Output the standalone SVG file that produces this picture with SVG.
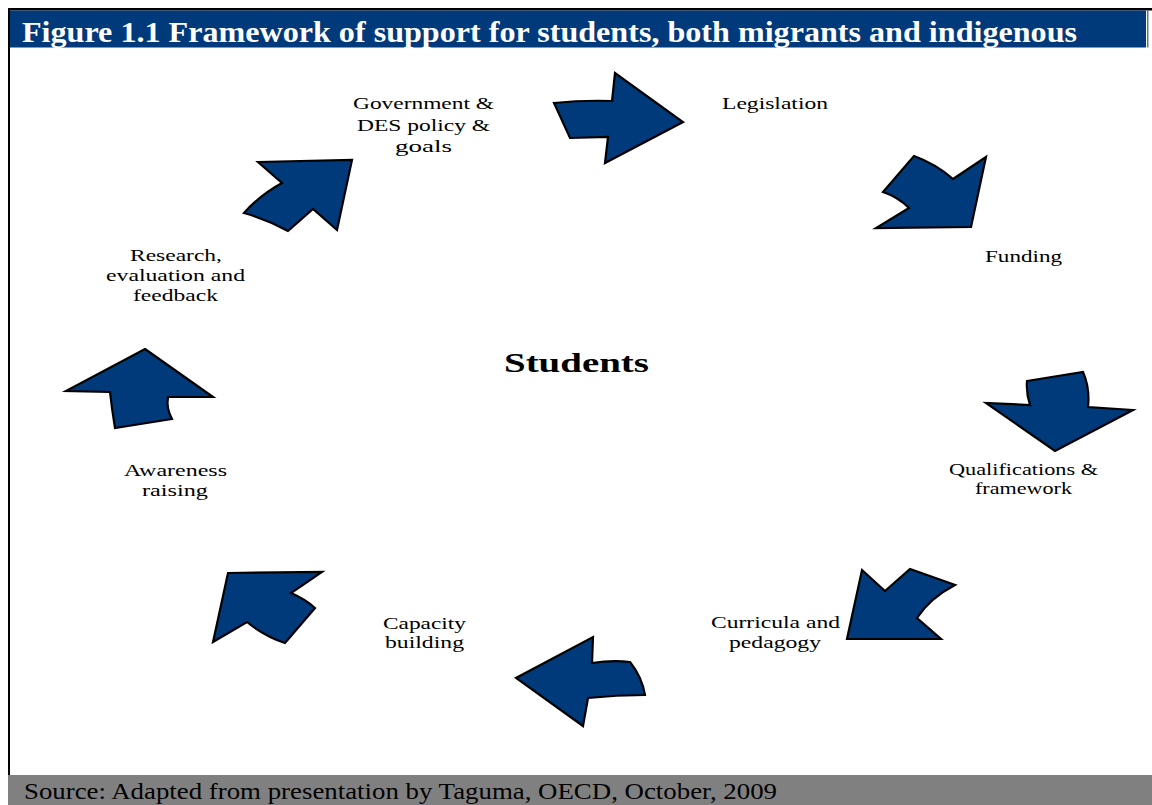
<svg xmlns="http://www.w3.org/2000/svg" width="1152" height="805" viewBox="0 0 1152 805">
<style>
.arrow{fill:#003a7a;stroke:#000;stroke-width:2.2;stroke-linejoin:miter}
.lbl{font-family:"Liberation Serif","Times New Roman",serif;font-size:17px;fill:#000;text-anchor:middle}
</style>
<rect x="0" y="0" width="1152" height="805" fill="#fff"/>
<g id="frame">
<rect x="8" y="8" width="1144" height="2.5" fill="#000"/>
<rect x="8" y="8" width="2" height="768" fill="#000"/>
<rect x="10" y="10.5" width="1136" height="37" fill="#003a7a"/>
<rect x="1147" y="10.5" width="1.5" height="37" fill="#5a76a0"/>
<text x="22" y="42" font-family="Liberation Serif,'Times New Roman',serif" font-size="30" font-weight="bold" fill="#fff" textLength="1055" lengthAdjust="spacingAndGlyphs">Figure 1.1 Framework of support for students, both migrants and indigenous</text>
<rect x="8" y="775" width="1144" height="30" fill="#808080"/>
<text x="24" y="799" font-family="Liberation Serif,'Times New Roman',serif" font-size="23" fill="#000" textLength="753" lengthAdjust="spacingAndGlyphs">Source: Adapted from presentation by Taguma, OECD, October, 2009</text>
</g>
<g id="connectors">
<path id="arrow-legislation" class="arrow" d="M554,103 Q583,100 612,101 L615,73 L683,122 L605,163 L608,137 L570,138 Z"/>
<path id="arrow-funding" class="arrow" d="M914,156 Q936,164 953,179 L986,157 L971,227 L876,228 L909,208 Q898,197 883,192 Z"/>
<path id="arrow-qualifications" class="arrow" d="M1027,381 L1083,372 Q1090,388 1088,407 L1133,410 L1055,451 L986,403 L1030,405 Q1026,393 1027,381 Z"/>
<path id="arrow-curricula" class="arrow" d="M862,570 L885,591 L910,569 L955,585 Q930,598 917,618 L941,639 L847,639 Z"/>
<path id="arrow-capacity" class="arrow" d="M593,637 L592,663 Q612,660 630,662 Q642,677 645,695 Q616,695 588,698 L583,726 L516,678 Z"/>
<path id="arrow-awareness" class="arrow" d="M228,573 L322,572 L291,593 Q305,599 315,608 L285,643 Q264,636 247,622 L213,642 Z"/>
<path id="arrow-research" class="arrow" d="M145,349 L213,397 L168,397 Q166,408 172,419 L115,428 Q112,410 110,392 L66,391 Z"/>
<path id="arrow-government" class="arrow" d="M258,162 L352,160 L337,230 L313,209 L288,231 Q266,219 244,213 Q260,195 282,183 Z"/>
</g>
<g id="node-government">
<text class="lbl" x="423.5" y="109" textLength="141" lengthAdjust="spacingAndGlyphs">Government &amp;</text>
<text class="lbl" x="423.5" y="131" textLength="133" lengthAdjust="spacingAndGlyphs">DES policy &amp;</text>
<text class="lbl" x="423.5" y="152" font-size="18" textLength="57" lengthAdjust="spacingAndGlyphs">goals</text>
</g>
<g id="node-legislation">
<text class="lbl" x="775" y="109" textLength="106" lengthAdjust="spacingAndGlyphs">Legislation</text>
</g>
<g id="node-funding">
<text class="lbl" x="1023.5" y="262" textLength="77" lengthAdjust="spacingAndGlyphs">Funding</text>
</g>
<g id="node-students">
<text x="576.5" y="372" font-family="Liberation Serif,'Times New Roman',serif" font-size="28" font-weight="bold" text-anchor="middle" fill="#000" textLength="145" lengthAdjust="spacingAndGlyphs">Students</text>
</g>
<g id="node-qualifications">
<text class="lbl" x="1023.5" y="475" textLength="149" lengthAdjust="spacingAndGlyphs">Qualifications &amp;</text>
<text class="lbl" x="1023.5" y="494" textLength="97" lengthAdjust="spacingAndGlyphs">framework</text>
</g>
<g id="node-curricula">
<text class="lbl" x="775.5" y="628" textLength="129" lengthAdjust="spacingAndGlyphs">Curricula and</text>
<text class="lbl" x="775" y="648" textLength="92" lengthAdjust="spacingAndGlyphs">pedagogy</text>
</g>
<g id="node-capacity">
<text class="lbl" x="424.5" y="629" textLength="83" lengthAdjust="spacingAndGlyphs">Capacity</text>
<text class="lbl" x="424.5" y="648" textLength="79" lengthAdjust="spacingAndGlyphs">building</text>
</g>
<g id="node-awareness">
<text class="lbl" x="175.5" y="476" textLength="103" lengthAdjust="spacingAndGlyphs">Awareness</text>
<text class="lbl" x="175" y="496" textLength="66" lengthAdjust="spacingAndGlyphs">raising</text>
</g>
<g id="node-research">
<text class="lbl" x="176" y="261" textLength="92" lengthAdjust="spacingAndGlyphs">Research,</text>
<text class="lbl" x="175.5" y="281" textLength="139" lengthAdjust="spacingAndGlyphs">evaluation and</text>
<text class="lbl" x="175.5" y="301" textLength="85" lengthAdjust="spacingAndGlyphs">feedback</text>
</g>
</svg>
